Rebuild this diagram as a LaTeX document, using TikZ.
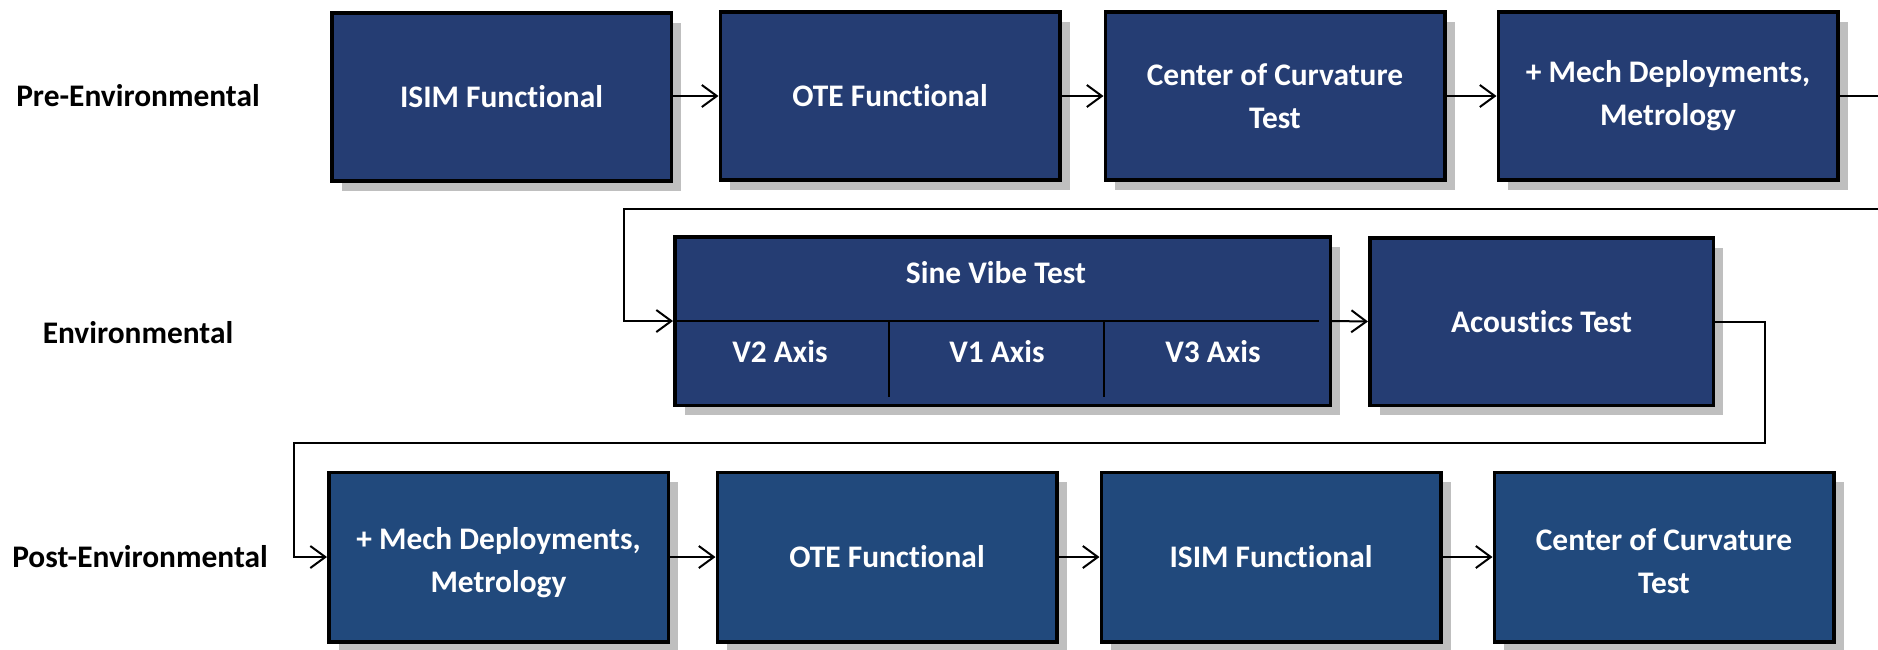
\documentclass[tikz,border=0pt]{standalone}
\usepackage{fontspec}
\setmainfont{Carlito}[Ligatures=NoCommon]
\usetikzlibrary{arrows.meta,shadows}
\definecolor{navyA}{HTML}{253D73}
\definecolor{navyB}{HTML}{21497C}
\definecolor{shadowgray}{HTML}{BFBFBF}
\begin{document}
\begin{tikzpicture}[x=1pt,y=-1pt,
  font=\fontsize{31.4}{43}\selectfont\bfseries,
  box/.style={draw=black, line width=3.5pt, fill=navyA, text=white,
    minimum width=339.5pt, minimum height=168pt, align=center, inner sep=0pt,
    drop shadow={shadow xshift=10pt, shadow yshift=-10pt, fill=shadowgray, opacity=1}},
  boxB/.style={box, fill=navyB, minimum height=169.5pt},
  rowlabel/.style={text=black, inner sep=0pt},
  celltext/.style={text=white, inner sep=0pt, align=center},
  conn/.style={line width=2pt, draw=black, -{Straight Barb[length=15pt,width=22pt,line width=2pt]}},
  plainline/.style={line width=2pt, draw=black}
]
\useasboundingbox (0,0) rectangle (1878,649);

% row labels
\node[rowlabel] (lpre)  at (138,96)  {Pre-Environmental};
\node[rowlabel] (lenv)  at (138,333) {Environmental};
\node[rowlabel] (lpost) at (140,557) {Post-Environmental};

% row 1
\node[box] (isim1) at (501.5,97) {ISIM Functional};
\node[box] (ote1)  at (890,96)   {OTE Functional};
\node[box] (coc1)  at (1275,96)  {Center of Curvature\\Test};
\node[box] (mech1) at (1668,96)  {+ Mech Deployments,\\Metrology};

% row 2
\node[box, minimum width=655.5pt, minimum height=168.5pt] (sine) at (1002.5,321) {};
\node[box, minimum width=343.5pt, minimum height=167.5pt] (acou) at (1541.5,321.5) {Acoustics Test};
\node[celltext] (sinet) at (996,273) {Sine Vibe Test};
\node[celltext] (v2) at (780,352)  {V2 Axis};
\node[celltext] (v1) at (997,352)  {V1 Axis};
\node[celltext] (v3) at (1213,352) {V3 Axis};

% row 3
\node[boxB] (mech2) at (498.5,557) {};
\node[celltext] (mech2t) at (498.5,563) {+ Mech Deployments,\\Metrology};
\node[boxB] (ote2)  at (887,557)   {OTE Functional};
\node[boxB] (isim2) at (1271,557)  {ISIM Functional};
\node[boxB] (coc2)  at (1664,557)  {};
\node[celltext] (coc2t) at (1664,561) {Center of Curvature\\Test};

% sine vibe internal dividers
\coordinate (dvL) at (673,321);
\coordinate (dvR) at (1319,321);
\coordinate (d1t) at (889,321);
\coordinate (d1b) at (889,397);
\coordinate (d2t) at (1104,321);
\coordinate (d2b) at (1104,397);
\draw[plainline] (dvL) -- (dvR);
\draw[plainline] (d1t) -- (d1b);
\draw[plainline] (d2t) -- (d2b);

% connectors row 1
\draw[conn] (isim1.east |- ote1.west) -- (ote1.west);
\draw[conn] (ote1.east) -- (coc1.west);
\draw[conn] (coc1.east) -- (mech1.west);

% row 1 -> row 2
\coordinate (r1a) at (1900,96);
\coordinate (r1b) at (624,209);
\draw[conn] (mech1.east) -- (r1a) |- (r1b) |- (sine.west);

% row 2
\draw[conn] (sine.east) -- (acou.west);

% row 2 -> row 3
\coordinate (r2a) at (1765,443);
\coordinate (r2b) at (294,443);
\draw[conn] (acou.east) -| (r2a) -- (r2b) |- (mech2.west);

% row 3
\draw[conn] (mech2.east) -- (ote2.west);
\draw[conn] (ote2.east) -- (isim2.west);
\draw[conn] (isim2.east) -- (coc2.west);
\end{tikzpicture}
\end{document}
